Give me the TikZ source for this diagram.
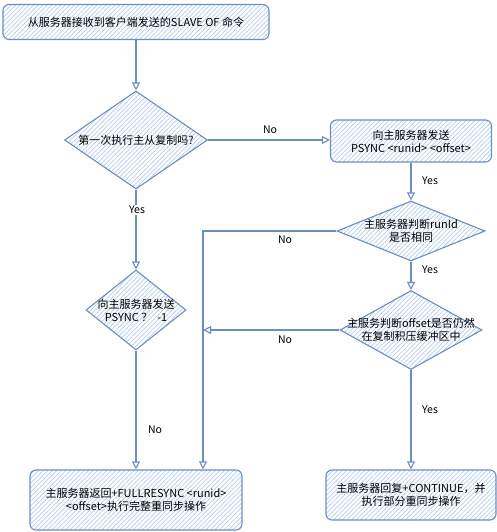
\documentclass[tikz,border=0pt]{standalone}
\usepackage{fontspec}
\setmainfont{Noto Sans CJK SC}
\usetikzlibrary{arrows.meta,positioning,shapes.geometric,patterns.meta}

\definecolor{edgeblue}{HTML}{6C8EBF}
\definecolor{hatchblue}{HTML}{B5CDEE}

\tikzset{
  sketchfill/.style={draw=edgeblue,line width=1.1pt,
    pattern={Lines[angle=45,distance=3.2pt,line width=0.7pt]},pattern color=hatchblue},
  procbox/.style={sketchfill,rounded corners=6pt,align=center,inner sep=2pt},
  decision/.style={sketchfill,diamond,inner sep=0pt},
  flowarrow/.style={draw=edgeblue,line width=1.1pt,-{Triangle[open,length=8pt,width=8pt]}},
  edgelabel/.style={font=\fontsize{10.5}{12}\selectfont,inner sep=1pt}
}

\begin{document}
\begin{tikzpicture}[x=1pt,y=-1pt,font=\fontsize{11}{13}\selectfont]
  \useasboundingbox (0,0) rectangle (497,532);

  % boxes
  \node[procbox,minimum width=266pt,minimum height=35pt] (recv) at (136,22)
    {从服务器接收到客户端发送的SLAVE OF 命令};
  \node[decision,minimum width=143pt,minimum height=98pt,
    label=center:{第一次执行主从复制吗?}] (first) at (136,140) {};
  \node[procbox,minimum width=161pt,minimum height=42pt] (psync) at (411,141)
    {向主服务器发送\\PSYNC <runid> <offset>};
  \node[decision,minimum width=148pt,minimum height=60pt,
    label={[align=center]center:{主服务器判断runId\\是否相同}}] (runid) at (411,231) {};
  \node[decision,minimum width=142pt,minimum height=79pt,
    label={[align=center]center:{主服务判断offset是否仍然\\在复制积压缓冲区中}}] (offset) at (411,330) {};
  \node[decision,minimum width=100pt,minimum height=80pt,
    label={[align=center]center:{向主服务器发送\\PSYNC ？\ \ -1}}] (psyncnew) at (136,310) {};
  \node[procbox,minimum width=212pt,minimum height=60pt] (full) at (136,500)
    {主服务器返回+FULLRESYNC <runid>\\<offset>执行完整重同步操作};
  \node[procbox,minimum width=170pt,minimum height=50pt] (part) at (411,495)
    {主服务器回复+CONTINUE，并\\执行部分重同步操作};
  \coordinate (noturn) at (203,231);

  % connectors
  \draw[flowarrow] (recv.south -| first.north) -- (first.north);
  \draw[flowarrow] (first.east) -- (first.east -| psync.west);
  \node[edgelabel] (no1) at (270,130) {No};
  \draw[flowarrow] (psync.south -| runid.north) -- (runid.north);
  \node[edgelabel] (yes1) at (430,181) {Yes};
  \draw[flowarrow] (runid.west) -- (noturn) -- (noturn |- full.north);
  \node[edgelabel] (no2) at (285,240) {No};
  \draw[flowarrow] (runid.south) -- (offset.north);
  \node[edgelabel] (yes2) at (430,270) {Yes};
  \draw[flowarrow] (offset.west) -- (offset.west -| noturn);
  \node[edgelabel] (no3) at (285,340) {No};
  \draw[flowarrow] (offset.south) -- (part.north);
  \node[edgelabel] (yes3) at (430,410) {Yes};
  \draw[flowarrow] (first.south) -- (psyncnew.north);
  \node[edgelabel,fill=white] (yes4) at (137,210) {Yes};
  \draw[flowarrow] (psyncnew.south) -- (full.north);
  \node[edgelabel] (no4) at (155,430) {No};
\end{tikzpicture}
\end{document}
